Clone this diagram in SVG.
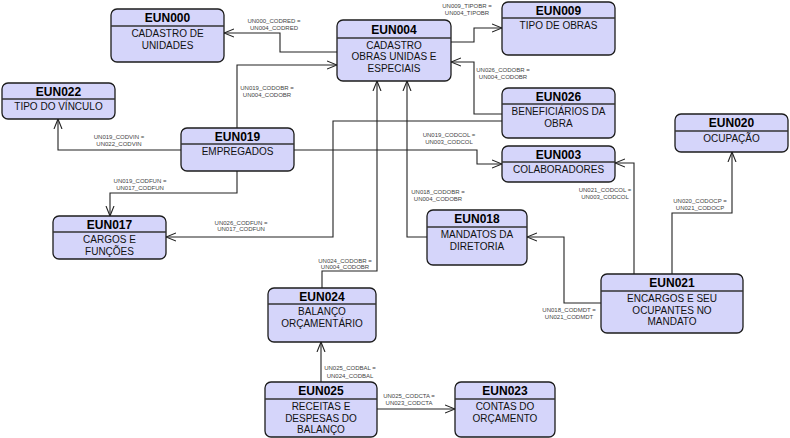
<svg xmlns="http://www.w3.org/2000/svg" width="790" height="438" viewBox="0 0 790 438">
  <style>
    .box { fill: #d5d5fa; stroke: #1c1c1c; stroke-width: 1.3; }
    .hdr { stroke: #333; stroke-width: 1.4; }
    .title { font-family: "Liberation Sans", Arial, sans-serif; font-size: 12px; font-weight: bold; fill: #000; text-anchor: middle; }
    .body { font-family: "Liberation Sans", Arial, sans-serif; font-size: 10px; fill: #111; text-anchor: middle; }
    .conn { fill: none; stroke: #222; stroke-width: 1.1; marker-end: url(#arr); }
    .lbl { font-family: "Liberation Sans", Arial, sans-serif; font-size: 6px; fill: #444; text-anchor: middle; }
  </style>
  <defs>
    <marker id="arr" viewBox="0 0 10 10" refX="10" refY="5" markerWidth="10" markerHeight="10" markerUnits="userSpaceOnUse" orient="auto">
      <path d="M0,1 L10,5 L0,9" fill="none" stroke="#222" stroke-width="1.1"/>
    </marker>
  </defs>
  <rect width="790" height="438" fill="#fff"/>

  <!-- relationships -->
  <g id="connectors">
    <path class="conn" d="M337,52 H280 V33 H224"/>
    <path class="conn" d="M237,128 V65 H337"/>
    <path class="conn" d="M451,42 H474 V28 H502"/>
    <path class="conn" d="M502,114 H474 V62 H451"/>
    <path class="conn" d="M181,150 H58 V119"/>
    <path class="conn" d="M237,171 V193 H110 V216"/>
    <path class="conn" d="M502,121 H333 V237 H166"/>
    <path class="conn" d="M294,150 H477 V164 H502"/>
    <path class="conn" d="M427,237 H407 V81"/>
    <path class="conn" d="M322,288 V271 H377 V81"/>
    <path class="conn" d="M634,274 V163 H615"/>
    <path class="conn" d="M672,274 V213 H732 V152"/>
    <path class="conn" d="M601,303 H564 V237 H527"/>
    <path class="conn" d="M321,382 V342"/>
    <path class="conn" d="M377,409 H455"/>

    <g class="lbl">
      <text x="274" y="23">UN000_CODRED =</text><text x="274" y="30">UN004_CODRED</text>
      <text x="267" y="90">UN019_CODOBR =</text><text x="267" y="97">UN004_CODOBR</text>
      <text x="467" y="8">UN009_TIPOBR =</text><text x="467" y="15">UN004_TIPOBR</text>
      <text x="503" y="72">UN026_CODOBR =</text><text x="503" y="79">UN004_CODOBR</text>
      <text x="119" y="139">UN019_CODVIN =</text><text x="119" y="146">UN022_CODVIN</text>
      <text x="140" y="183">UN019_CODFUN =</text><text x="140" y="190">UN017_CODFUN</text>
      <text x="241" y="225">UN026_CODFUN =</text><text x="241" y="231">UN017_CODFUN</text>
      <text x="449" y="137">UN019_CODCOL =</text><text x="449" y="144">UN003_CODCOL</text>
      <text x="438" y="194">UN018_CODOBR =</text><text x="438" y="201">UN004_CODOBR</text>
      <text x="345" y="263">UN024_CODOBR =</text><text x="345" y="269">UN004_CODOBR</text>
      <text x="605" y="192">UN021_CODCOL =</text><text x="605" y="199">UN003_CODCOL</text>
      <text x="700" y="203">UN020_CODOCP =</text><text x="700" y="210">UN021_CODOCP</text>
      <text x="569" y="312">UN018_CODMDT =</text><text x="569" y="319">UN021_CODMDT</text>
      <text x="350" y="370">UN025_CODBAL =</text><text x="350" y="378">UN024_CODBAL</text>
      <text x="409" y="398">UN025_CODCTA =</text><text x="409" y="405">UN023_CODCTA</text>
    </g>
  </g>

  <!-- tables -->
  <g id="EUN000">
    <rect class="box" x="111" y="9" width="113" height="53" rx="6"/>
    <line class="hdr" x1="111" y1="26" x2="224" y2="26"/>
    <text class="title" x="167.5" y="22">EUN000</text>
    <text class="body" x="167.5" y="37">CADASTRO DE</text>
    <text class="body" x="167.5" y="48.5">UNIDADES</text>
  </g>
  <g id="EUN004">
    <rect class="box" x="337" y="20" width="114" height="61" rx="6"/>
    <line class="hdr" x1="337" y1="38" x2="451" y2="38"/>
    <text class="title" x="394" y="33.5">EUN004</text>
    <text class="body" x="394" y="48.5">CADASTRO</text>
    <text class="body" x="394" y="60">OBRAS UNIDAS E</text>
    <text class="body" x="394" y="71.5">ESPECIAIS</text>
  </g>
  <g id="EUN009">
    <rect class="box" x="502" y="2" width="113" height="53" rx="6"/>
    <line class="hdr" x1="502" y1="18" x2="615" y2="18"/>
    <text class="title" x="558.5" y="14.5">EUN009</text>
    <text class="body" x="558.5" y="29">TIPO DE OBRAS</text>
  </g>
  <g id="EUN022">
    <rect class="box" x="2" y="83" width="113" height="36" rx="6"/>
    <line class="hdr" x1="2" y1="99" x2="115" y2="99"/>
    <text class="title" x="58.5" y="95.5">EUN022</text>
    <text class="body" x="58.5" y="110">TIPO DO VÍNCULO</text>
  </g>
  <g id="EUN019">
    <rect class="box" x="181" y="128" width="113" height="43" rx="6"/>
    <line class="hdr" x1="181" y1="144" x2="294" y2="144"/>
    <text class="title" x="237.5" y="140.5">EUN019</text>
    <text class="body" x="237.5" y="155">EMPREGADOS</text>
  </g>
  <g id="EUN026">
    <rect class="box" x="502" y="88" width="113" height="50" rx="6"/>
    <line class="hdr" x1="502" y1="104" x2="615" y2="104"/>
    <text class="title" x="558.5" y="100.5">EUN026</text>
    <text class="body" x="558.5" y="115">BENEFICIÁRIOS DA</text>
    <text class="body" x="558.5" y="126.5">OBRA</text>
  </g>
  <g id="EUN003">
    <rect class="box" x="502" y="146" width="113" height="36" rx="6"/>
    <line class="hdr" x1="502" y1="162" x2="615" y2="162"/>
    <text class="title" x="558.5" y="158.5">EUN003</text>
    <text class="body" x="558.5" y="173">COLABORADORES</text>
  </g>
  <g id="EUN020">
    <rect class="box" x="675" y="114" width="113" height="38" rx="6"/>
    <line class="hdr" x1="675" y1="131" x2="788" y2="131"/>
    <text class="title" x="731.5" y="127">EUN020</text>
    <text class="body" x="731.5" y="141.5">OCUPAÇÃO</text>
  </g>
  <g id="EUN017">
    <rect class="box" x="53" y="216" width="113" height="43" rx="6"/>
    <line class="hdr" x1="53" y1="232" x2="166" y2="232"/>
    <text class="title" x="109.5" y="228.5">EUN017</text>
    <text class="body" x="109.5" y="243">CARGOS E</text>
    <text class="body" x="109.5" y="254.5">FUNÇÕES</text>
  </g>
  <g id="EUN018">
    <rect class="box" x="427" y="210" width="100" height="55" rx="6"/>
    <line class="hdr" x1="427" y1="227" x2="527" y2="227"/>
    <text class="title" x="477" y="223">EUN018</text>
    <text class="body" x="477" y="238">MANDATOS DA</text>
    <text class="body" x="477" y="249.5">DIRETORIA</text>
  </g>
  <g id="EUN021">
    <rect class="box" x="601" y="274" width="142" height="59" rx="6"/>
    <line class="hdr" x1="601" y1="291" x2="743" y2="291"/>
    <text class="title" x="672" y="287">EUN021</text>
    <text class="body" x="672" y="302">ENCARGOS E SEU</text>
    <text class="body" x="672" y="313.5">OCUPANTES NO</text>
    <text class="body" x="672" y="325">MANDATO</text>
  </g>
  <g id="EUN024">
    <rect class="box" x="268" y="288" width="108" height="54" rx="6"/>
    <line class="hdr" x1="268" y1="304" x2="376" y2="304"/>
    <text class="title" x="322" y="300.5">EUN024</text>
    <text class="body" x="322" y="315">BALANÇO</text>
    <text class="body" x="322" y="326.5">ORÇAMENTÁRIO</text>
  </g>
  <g id="EUN025">
    <rect class="box" x="265" y="382" width="112" height="55" rx="6"/>
    <line class="hdr" x1="265" y1="399" x2="377" y2="399"/>
    <text class="title" x="321" y="395">EUN025</text>
    <text class="body" x="321" y="410">RECEITAS E</text>
    <text class="body" x="321" y="421.5">DESPESAS DO</text>
    <text class="body" x="321" y="433">BALANÇO</text>
  </g>
  <g id="EUN023">
    <rect class="box" x="455" y="382" width="100" height="55" rx="6"/>
    <line class="hdr" x1="455" y1="399" x2="555" y2="399"/>
    <text class="title" x="505" y="395">EUN023</text>
    <text class="body" x="505" y="410">CONTAS DO</text>
    <text class="body" x="505" y="421.5">ORÇAMENTO</text>
  </g>
</svg>
